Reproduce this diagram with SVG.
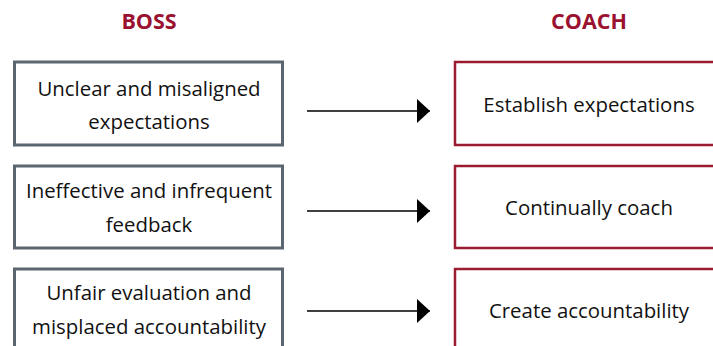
<svg xmlns="http://www.w3.org/2000/svg" width="713" height="346" viewBox="0 0 713 346">
  <style>
    .head { font-family: "Open Sans", "Noto Sans", sans-serif; font-weight: 700; font-size: 21.5px; fill: #9b1230; text-anchor: middle; }
    .txt { font-family: "Open Sans", "Noto Sans", sans-serif; font-size: 20.4px; fill: #111; text-anchor: middle; }
    .boss { fill: #fff; stroke: #5b6670; stroke-width: 3; }
    .coach { fill: #fff; stroke: #9b1b30; stroke-width: 2.5; }
    .conn { stroke: #000; stroke-width: 1.6; fill: none; }
  </style>
  <defs>
    <marker id="arrow" markerUnits="userSpaceOnUse" markerWidth="14" markerHeight="24" refX="13" refY="12" orient="auto">
      <path d="M0,0 L13,12 L0,24 Z" fill="#000"/>
    </marker>
  </defs>

  <text class="head" x="149" y="29">BOSS</text>
  <text class="head" x="589" y="29">COACH</text>

  <g id="boss-1">
    <rect class="boss" x="14.5" y="62" width="268" height="83"/>
    <text class="txt" x="149" y="96">Unclear and misaligned</text>
    <text class="txt" x="149" y="129">expectations</text>
  </g>
  <g id="boss-2">
    <rect class="boss" x="14.5" y="166" width="268" height="82"/>
    <text class="txt" x="149" y="198">Ineffective and infrequent</text>
    <text class="txt" x="149" y="232">feedback</text>
  </g>
  <g id="boss-3">
    <rect class="boss" x="14.5" y="269" width="268" height="83"/>
    <text class="txt" x="149" y="300">Unfair evaluation and</text>
    <text class="txt" x="149" y="334">misplaced accountability</text>
  </g>

  <g id="coach-1">
    <rect class="coach" x="455" y="62" width="268" height="83"/>
    <text class="txt" x="589" y="112">Establish expectations</text>
  </g>
  <g id="coach-2">
    <rect class="coach" x="455" y="166" width="268" height="82"/>
    <text class="txt" x="589" y="215">Continually coach</text>
  </g>
  <g id="coach-3">
    <rect class="coach" x="455" y="269" width="268" height="83"/>
    <text class="txt" x="589" y="318">Create accountability</text>
  </g>

  <g id="connectors">
    <line class="conn" x1="307" y1="111" x2="430" y2="111" marker-end="url(#arrow)"/>
    <line class="conn" x1="307" y1="211" x2="430" y2="211" marker-end="url(#arrow)"/>
    <line class="conn" x1="307" y1="311" x2="430" y2="311" marker-end="url(#arrow)"/>
  </g>
</svg>
